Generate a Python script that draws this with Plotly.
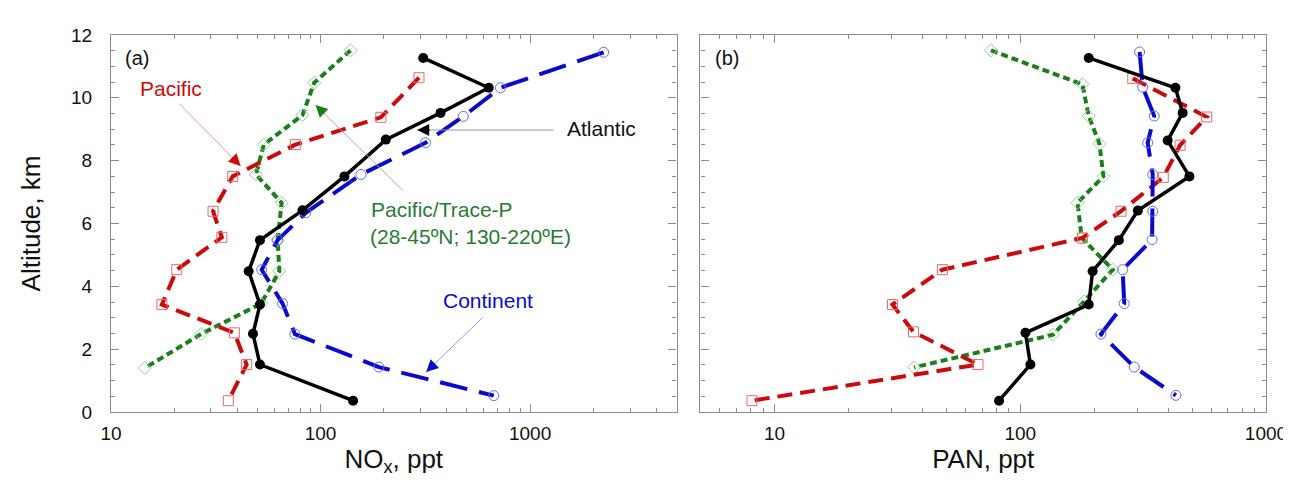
import plotly.graph_objects as go

# ---------------- data ----------------
# Panel (a): NOx, ppt vs altitude, km
atl_nox_alt = [11.27, 10.32, 9.52, 8.67, 7.5, 6.42, 5.47, 4.48, 3.42, 2.49, 1.51, 0.36]
atl_nox = [309, 635, 374, 205, 130, 82, 51.4, 45.4, 51.4, 47.6, 51.4, 143]
con_nox_alt = [11.45, 10.32, 9.41, 8.57, 7.56, 6.34, 5.47, 4.53, 3.45, 2.48, 1.43, 0.52]
con_nox = [2245, 722, 480, 317, 156, 85, 62.4, 52.4, 65.9, 75.5, 190, 671]
pac_nox_alt = [10.64, 9.38, 8.51, 7.5, 6.39, 5.56, 4.53, 3.42, 2.52, 1.51, 0.36]
pac_nox = [295, 194, 75.8, 38.1, 30.7, 33.8, 20.6, 17.5, 38.8, 44.4, 36.3]
trp_nox_alt = [11.51, 10.48, 9.45, 8.51, 7.56, 6.66, 5.47, 4.48, 3.45, 2.48, 1.40]
trp_nox = [139, 93.3, 82, 53.6, 49.2, 65.2, 62.4, 63.6, 52, 26.9, 14.5]

# Panel (b): PAN, ppt vs altitude, km
atl_pan_alt = [11.27, 10.32, 9.52, 8.64, 7.5, 6.41, 5.47, 4.48, 3.42, 2.52, 1.51, 0.36]
atl_pan = [190, 428, 458, 398, 488, 301, 252, 197, 190, 105, 110, 82]
con_pan_alt = [11.46, 10.34, 9.42, 8.57, 7.56, 6.39, 5.49, 4.53, 3.45, 2.48, 1.43, 0.53]
con_pan = [306, 315, 351, 330, 346, 346, 344, 261, 265, 213, 291, 430]
pac_pan_alt = [10.62, 9.39, 8.49, 7.47, 6.39, 5.54, 4.53, 3.42, 2.55, 1.51, 0.36]
pac_pan = [287, 574, 447, 382, 257, 179, 48.2, 30.2, 36.8, 67.3, 8.1]
trp_pan_alt = [11.51, 10.43, 9.42, 8.54, 7.5, 6.66, 5.54, 4.53, 3.52, 2.46, 1.42]
trp_pan = [76, 179, 190, 210, 218, 171, 178, 238, 182, 136, 37]

x_major = [10, 100, 1000]
x_minor = [m * d for d in (1, 10, 100, 1000) for m in range(2, 10)]
y_major = [0, 2, 4, 6, 8, 10, 12]

# ---------------- styles ----------------
RED, BLUE, GREEN, BLACK = "#cc0a0a", "#0a0acc", "#1a7f1a", "#000000"
FONT = "Arial, Liberation Sans, sans-serif"

styles = {
    "trp": dict(line=dict(color=GREEN, width=4, dash="7px,4px"),
                marker=dict(symbol="diamond-open", size=10, color="#8fd18f", line=dict(width=1))),
    "pac": dict(line=dict(color=RED, width=4, dash="15px,8px"),
                marker=dict(symbol="square-open", size=10, color="#e46a6a", line=dict(width=1))),
    "con": dict(line=dict(color=BLUE, width=4, dash="28px,12px"),
                marker=dict(symbol="circle-open", size=10, color="#6a6aee", line=dict(width=1))),
    "atl": dict(line=dict(color=BLACK, width=3.5),
                marker=dict(symbol="circle", size=10, color=BLACK)),
}

fig = go.Figure()
panels = [
    ("x", "y", [("trp", trp_nox, trp_nox_alt), ("pac", pac_nox, pac_nox_alt),
                ("con", con_nox, con_nox_alt), ("atl", atl_nox, atl_nox_alt)]),
    ("x2", "y2", [("trp", trp_pan, trp_pan_alt), ("pac", pac_pan, pac_pan_alt),
                  ("con", con_pan, con_pan_alt), ("atl", atl_pan, atl_pan_alt)]),
]
for xa, ya, series in panels:
    for key, xs, ys in series:
        fig.add_trace(go.Scatter(x=xs, y=ys, xaxis=xa, yaxis=ya, mode="lines+markers",
                                 showlegend=False, hoverinfo="skip", **styles[key]))

AX_COL = "#8a8a8a"
common_x = dict(type="log", showgrid=False, zeroline=False, showline=True, linecolor=AX_COL,
                linewidth=1.2, mirror="allticks", ticks="inside", ticklen=8, tickcolor=AX_COL,
                tickmode="array", tickvals=x_major, ticktext=[str(v) for v in x_major],
                tickfont=dict(family=FONT, size=19, color="#111"), ticklabelstandoff=4,
                minor=dict(tickmode="array", tickvals=x_minor, ticks="inside", ticklen=4,
                           tickcolor=AX_COL, showgrid=False))
common_y = dict(range=[0, 12], showgrid=False, zeroline=False, showline=True, linecolor=AX_COL,
                linewidth=1.2, mirror="allticks", ticks="inside", ticklen=8, tickcolor=AX_COL,
                tickmode="array", tickvals=y_major,
                tickfont=dict(family=FONT, size=19, color="#111"),
                minor=dict(dtick=0.5, ticks="inside", ticklen=4, tickcolor=AX_COL, showgrid=False))

W, H = 1291, 491
L, R, T, B = 103, 30, 27, 87
pw = W - L - R
split_a = (670 - L) / pw
split_b = (694 - L) / pw

fig.update_layout(
    width=W, height=H, margin=dict(l=L, r=R, t=T, b=B),
    paper_bgcolor="white", plot_bgcolor="white",
    font=dict(family=FONT, color="#111"),
    xaxis=dict(common_x, domain=[0, split_a], range=[1, 3.699], anchor="y",
               title=dict(text="NO<sub>x</sub>, ppt", font=dict(family=FONT, size=26), standoff=6)),
    yaxis=dict(common_y, domain=[0, 1], anchor="x", ticklabelstandoff=14,
               title=dict(text="Altitude, km", font=dict(family=FONT, size=26), standoff=22)),
    xaxis2=dict(common_x, domain=[split_b, 1], range=[0.699, 3.0], anchor="y2",
                title=dict(text="PAN, ppt", font=dict(family=FONT, size=26), standoff=6)),
    yaxis2=dict(common_y, domain=[0, 1], anchor="x2", showticklabels=False),
)


def px(xp, yp):
    return (xp - L) / pw, (H - B - yp) / (H - T - B)


def text(s, xp, yp, color, size=20, anchor="center"):
    x, y = px(xp, yp)
    fig.add_annotation(text=s, x=x, y=y, xref="paper", yref="paper", showarrow=False,
                       xanchor=anchor, yanchor="middle", font=dict(family=FONT, size=size, color=color))


def arrow(tail, tip, line_col, head_col):
    x, y = px(*tip)
    dx, dy = tail[0] - tip[0], tail[1] - tip[1]
    fig.add_annotation(text="", x=x, y=y, xref="paper", yref="paper", ax=dx, ay=dy,
                       showarrow=True, arrowhead=0, arrowwidth=1, arrowcolor=line_col)
    n = (dx * dx + dy * dy) ** 0.5
    fig.add_annotation(text="", x=x, y=y, xref="paper", yref="paper",
                       ax=dx / n * 14, ay=dy / n * 14, showarrow=True, arrowhead=2,
                       arrowsize=1.6, arrowwidth=1.5, arrowcolor=head_col)


text("(a)", 115, 50, "#111", 20, "left")
text("(b)", 707, 50, "#111", 20, "left")
text("Pacific", 163, 80, RED, 21)
arrow((170, 94), (233, 158), "#e89a9a", RED)
text("Atlantic", 595, 121, "#111", 21)
arrow((548, 122), (410, 122), "#9a9a9a", BLACK)
text("Pacific/Trace-P", 362, 201, "#2a7a35", 21, "left")
text("(28-45ºN; 130-220ºE)", 361, 229, "#2a7a35", 21, "left")
arrow((397, 184), (308, 97), "#aaaaaa", GREEN)
text("Continent", 481, 292, BLUE, 21)
arrow((477, 308), (419, 364), "#9a9ae8", BLUE)

fig.write_html("out.html")
